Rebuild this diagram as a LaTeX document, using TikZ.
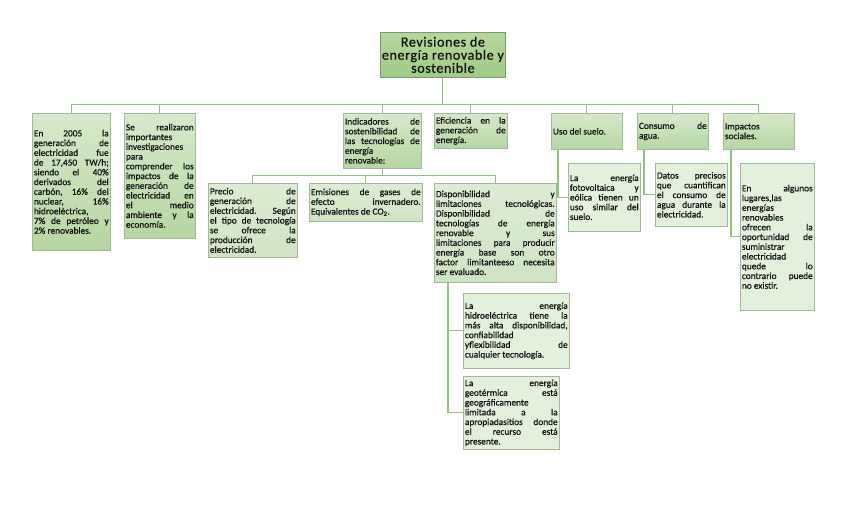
\documentclass[tikz,border=0pt]{standalone}
\usepackage{fontspec}
\setmainfont{Carlito}
\usetikzlibrary{shadows}

\definecolor{linegreen}{HTML}{8DC47C}
\definecolor{boxedge}{HTML}{A3B89A}
\definecolor{topA}{HTML}{B4D89C}
\definecolor{topB}{HTML}{9FCA86}
\definecolor{lvlA}{HTML}{D6E9CB}
\definecolor{lvlB}{HTML}{B5D6A3}
\definecolor{subA}{HTML}{DDECD3}
\definecolor{subB}{HTML}{CFE4C3}
\definecolor{leaf}{HTML}{E3F0DB}
\definecolor{ink}{HTML}{111111}

\tolerance=10000
\hbadness=10000
\hyphenpenalty=10000
\exhyphenpenalty=10000
\frenchspacing

% justified line end
\newcommand{\jl}{\linebreak}

\begin{document}
\begin{tikzpicture}[
  x=0.75pt, y=-0.75pt,
  box/.style={draw=boxedge, line width=0.5pt, anchor=north west, inner xsep=1.2pt, inner ysep=1pt,
    align=justify, text=ink, font=\fontsize{7}{7.3}\selectfont\addfontfeature{FakeBold=0.6},
    drop shadow={shadow xshift=0.6pt, shadow yshift=-0.6pt, opacity=0.2, fill=black}},
  head/.style={box, top color=topA, bottom color=topB, align=center, draw=boxedge!80!black,
    font=\fontsize{10.6}{9.8}\selectfont\addfontfeature{LetterSpace=4,FakeBold=0.5}},
  lvl/.style={box, top color=lvlA, bottom color=lvlB},
  sub/.style={box, top color=subA, bottom color=subB},
  leafbox/.style={box, fill=leaf},
  wire/.style={draw=linegreen, line width=0.8pt}
]
\fill[white] (0,0) rectangle (848,515);
\useasboundingbox (0,0) rectangle (848,515);

\node[head, minimum width=93.75pt, minimum height=33.75pt] (root) at (380,32)
  {Revisiones de\\energía renovable y\\sostenible};

% first level
\node[lvl, text width=56.1pt, minimum height=102.75pt] (gen) at (32,113)
  {En 2005 la\jl generación de\jl electricidad fue\jl de 17,450 TW/h;\jl
   siendo el 40\%\jl derivados del\jl carbón, 16\% del\jl nuclear, 16\%\jl
   hidroeléctrica,\\7\% de petróleo y\jl 2\% renovables.};
\node[lvl, text width=50.85pt, minimum height=93.75pt] (inv) at (124,113)
  {Se realizaron\jl importantes\\investigaciones\\para\\comprender los\jl
   impactos de la\jl generación de\jl electricidad en\jl el medio\jl
   ambiente y la\jl economía.};
\node[lvl, text width=56.1pt, minimum height=41.25pt] (ind) at (343,113)
  {Indicadores de\jl sostenibilidad de\jl las tecnologías de\jl energía\\renovable:};
\node[lvl, text width=52.35pt, minimum height=26.25pt] (efi) at (434,113)
  {Eficiencia en la\jl generación de\jl energía.};
\node[lvl, text width=50.85pt, minimum height=27pt] (suelo) at (551,113)
  {Uso del suelo.};
\node[lvl, text width=50.85pt, minimum height=27pt] (agua) at (637,113)
  {Consumo de\jl agua.};
\node[lvl, text width=50.85pt, minimum height=27pt] (soc) at (723,113)
  {Impactos\\sociales.};

% indicators
\node[sub, text width=64.35pt, minimum height=55.5pt] (precio) at (208,183)
  {Precio de\jl generación de\jl electricidad. Según\jl el tipo de tecnología\jl
   se ofrece la\jl producción de\jl electricidad.};
\node[sub, text width=82.35pt, minimum height=28.5pt] (emis) at (309,183)
  {Emisiones de gases de\jl efecto invernadero.\jl Equivalentes de CO\textsubscript{2}.};
\node[sub, text width=89.1pt, minimum height=74.25pt] (disp) at (434,183)
  {Disponibilidad y\jl limitaciones tecnológicas.\jl Disponibilidad de\jl
   tecnologías de energía\jl renovable y sus\jl limitaciones para producir\jl
   energía base son otro\jl factor limitanteeso necesita\jl ser evaluado.};

% details
\node[leafbox, text width=77.1pt, minimum height=56.25pt] (hidro) at (463,293)
  {La energía\jl hidroeléctrica tiene la\jl más alta disponibilidad,\jl
   confiabilidad\\yflexibilidad de\jl cualquier tecnología.};
\node[leafbox, text width=69.6pt, minimum height=54.75pt] (geo) at (463,376)
  {La energía\jl geotérmica está\jl geográficamente\\limitada a la\jl
   apropiadasitios donde\jl el recurso está\jl presente.};
\node[leafbox, text width=51.6pt, minimum height=51pt] (foto) at (568,163)
  {La energía\jl fotovoltaica y\jl eólica tienen un\jl uso similar del\jl suelo.};
\node[leafbox, text width=51.6pt, minimum height=47.25pt] (datos) at (655,163)
  {Datos precisos\jl que cuantifican\jl el consumo de\jl agua durante la\jl electricidad.};
\node[leafbox, text width=53.1pt, minimum height=110.25pt] (lug) at (740,163)
  {En algunos\jl lugares,las\\energías\\renovables\\ofrecen la\jl oportunidad de\jl
   suministrar\\electricidad\\quede lo\jl contrario puede\jl no existir.};

% connectors
\foreach \n in {gen,inv,ind,efi,suelo,agua,soc}
  \draw[wire] (root.south) -- ++(0,27) -| (\n.north);
\foreach \n in {precio,emis,disp}
  \draw[wire] (ind.south) -- ++(0,7) -| (\n.north);
\draw[wire] ([xshift=10.5pt]disp.south west) |- (hidro.west);
\draw[wire] ([xshift=10.5pt]disp.south west) |- (geo.west);
\draw[wire] ([xshift=5.25pt]suelo.south west) |- (foto.west);
\draw[wire] ([xshift=5.25pt]agua.south west) |- (datos.west);
\draw[wire] ([xshift=6pt]soc.south west) |- (lug.west);
\end{tikzpicture}
\end{document}
